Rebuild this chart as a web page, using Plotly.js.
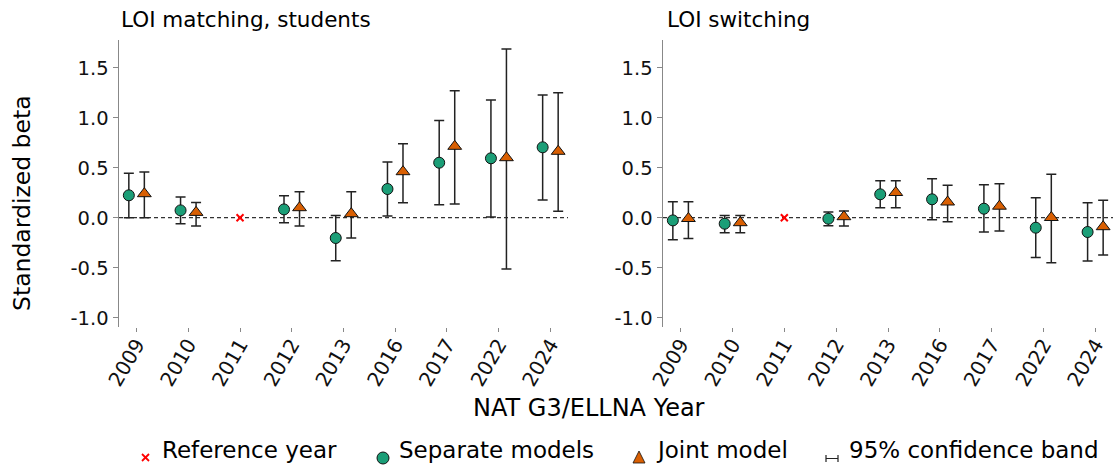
<!DOCTYPE html>
<html><head><meta charset="utf-8">
<script src="https://cdn.plot.ly/plotly-3.0.1.min.js"></script>
<style>html,body{margin:0;padding:0;background:#fff}</style>
</head><body><div id="chart" style="width:1113px;height:468px"></div>
<script>
const years = ['2009','2010','2011','2012','2013','2016','2017','2022','2024'];
const referenceYear = '2011';
const panelTitles = ['LOI matching, students', 'LOI switching'];
const yTickVals = [-1.0, -0.5, 0.0, 0.5, 1.0, 1.5];
const yTickText = ['-1.0', '-0.5', '0.0', '0.5', '1.0', '1.5'];

// LOI matching, students
const matchSepEst   = [0.224, 0.073, null, 0.083, -0.203, 0.287, 0.550, 0.594, 0.704];
const matchSepLo    = [0.000, -0.060, null, -0.050, -0.430, 0.017, 0.130, 0.007, 0.177];
const matchSepHi    = [0.444, 0.207, null, 0.220, 0.023, 0.557, 0.973, 1.177, 1.227];
const matchJointEst = [0.240, 0.053, null, 0.100, 0.040, 0.460, 0.714, 0.600, 0.664];
const matchJointLo  = [0.000, -0.083, null, -0.083, -0.203, 0.150, 0.137, -0.513, 0.064];
const matchJointHi  = [0.457, 0.153, null, 0.260, 0.260, 0.740, 1.270, 1.687, 1.250];
// LOI switching
const switchSepEst   = [-0.027, -0.060, null, -0.010, 0.234, 0.184, 0.090, -0.100, -0.143];
const switchSepLo    = [-0.220, -0.150, null, -0.080, 0.100, -0.020, -0.143, -0.397, -0.433];
const switchSepHi    = [0.160, 0.023, null, 0.057, 0.370, 0.390, 0.330, 0.200, 0.150];
const switchJointEst = [-0.008, -0.050, null, 0.010, 0.252, 0.157, 0.115, 0.002, -0.090];
const switchJointLo  = [-0.207, -0.150, null, -0.083, 0.100, -0.040, -0.133, -0.450, -0.373];
const switchJointHi  = [0.160, 0.023, null, 0.067, 0.370, 0.324, 0.340, 0.434, 0.174];

const legendLabels = ['Reference year', 'Separate models', 'Joint model', '95% confidence band'];

const W = 1113, H = 468;
const FONT = 'DejaVu Sans, Arial, sans-serif';
const GREEN = '#1b9e77', ORANGE = '#d95f02';
const DODGE = 0.15;
const idx = years.map((_, i) => i);
const refIdx = years.indexOf(referenceYear);
const fx = p => p / W, fy = p => 1 - p / H;

function errBar(est, lo, hi) {
  return {type: 'data', symmetric: false,
    array: est.map((v, i) => v == null ? null : hi[i] - v),
    arrayminus: est.map((v, i) => v == null ? null : v - lo[i]),
    color: '#222', thickness: 1.5, width: 5};
}
function panel(sepEst, sepLo, sepHi, jEst, jLo, jHi, xa, ya) {
  return [
    {x: idx.map(i => i - DODGE), y: sepEst, xaxis: xa, yaxis: ya, type: 'scatter', mode: 'markers',
     marker: {symbol: 'circle', size: 11, color: GREEN, line: {color: '#111', width: 1}},
     error_y: errBar(sepEst, sepLo, sepHi), showlegend: false, cliponaxis: false},
    {x: idx.map(i => i + DODGE), y: jEst, xaxis: xa, yaxis: ya, type: 'scatter', mode: 'markers',
     marker: {symbol: 'triangle-up', size: 12, color: ORANGE, line: {color: '#111', width: 1}},
     error_y: errBar(jEst, jLo, jHi), showlegend: false, cliponaxis: false},
    {x: [refIdx], y: [0], xaxis: xa, yaxis: ya, type: 'scatter', mode: 'markers',
     marker: {symbol: 'x-thin', size: 7, color: 'red', line: {color: 'red', width: 2}},
     showlegend: false, cliponaxis: false}
  ];
}
const data = [
  ...panel(matchSepEst, matchSepLo, matchSepHi, matchJointEst, matchJointLo, matchJointHi, 'x', 'y'),
  ...panel(switchSepEst, switchSepLo, switchSepHi, switchJointEst, switchJointLo, switchJointHi, 'x2', 'y2')
];

const xBase = {range: [-0.34, 8.34], tickvals: idx, ticktext: years, tickangle: -60,
  ticks: 'outside', ticklen: 4, tickcolor: '#888', tickwidth: 1, showline: false,
  ticklabelstandoff: -7,
  showgrid: false, zeroline: false, tickfont: {family: FONT, size: 20, color: '#111'}};
const yBase = {range: [-1.093, 1.777], tickvals: yTickVals, ticktext: yTickText,
  ticks: 'outside', ticklen: 5, tickcolor: '#888', tickwidth: 1, showline: true,
  linecolor: '#888', linewidth: 1.5, showgrid: false, zeroline: false,
  domain: [fy(327), fy(40)], tickfont: {family: FONT, size: 19.5, color: '#111'}};

const shapes = [
  {type: 'line', xref: 'x domain', yref: 'y', x0: 0, x1: 1, y0: 0, y1: 0, layer: 'below',
   line: {color: '#333', width: 1.2, dash: '4px,3px'}},
  {type: 'line', xref: 'x2 domain', yref: 'y2', x0: 0, x1: 1, y0: 0, y1: 0, layer: 'below',
   line: {color: '#333', width: 1.2, dash: '4px,3px'}},
  // legend symbols
  {type: 'line', xref: 'paper', yref: 'paper', x0: fx(142), x1: fx(149), y0: fy(454), y1: fy(461), line: {color: 'red', width: 1.8}},
  {type: 'line', xref: 'paper', yref: 'paper', x0: fx(142), x1: fx(149), y0: fy(461), y1: fy(454), line: {color: 'red', width: 1.8}},
  {type: 'circle', xref: 'paper', yref: 'paper', x0: fx(377), x1: fx(389), y0: fy(464), y1: fy(452), fillcolor: GREEN, line: {color: '#111', width: 1}},
  {type: 'path', xref: 'paper', yref: 'paper',
   path: `M${fx(633)},${fy(463)} L${fx(645)},${fy(463)} L${fx(639)},${fy(451)} Z`, fillcolor: ORANGE, line: {color: '#111', width: 0.8}},
  {type: 'path', xref: 'paper', yref: 'paper',
   path: `M${fx(826)},${fy(455)} L${fx(826)},${fy(462)} M${fx(826)},${fy(458.5)} L${fx(838)},${fy(458.5)} M${fx(838)},${fy(455)} L${fx(838)},${fy(462)}`,
   line: {color: '#222', width: 1.2}}
];

const ann = (text, x, y, size, extra) => Object.assign({text, x: fx(x), y: fy(y), xref: 'paper', yref: 'paper',
  showarrow: false, xanchor: 'left', yanchor: 'middle', font: {family: FONT, size, color: '#000'}}, extra || {});
const annotations = [
  ann(panelTitles[0], 119, 20, 21.5),
  ann(panelTitles[1], 665, 20, 21.5),
  ann('NAT G3/ELLNA Year', 589, 408, 24, {xanchor: 'center'}),
  ann('Standardized beta', 22, 203, 23.5, {xanchor: 'center', textangle: -90}),
  ann(legendLabels[0], 160, 450, 23),
  ann(legendLabels[1], 397, 450, 23),
  ann(legendLabels[2], 654, 450, 23),
  ann(legendLabels[3], 847, 450, 23)
];

const layout = {
  width: W, height: H, margin: {l: 0, r: 0, t: 0, b: 0},
  paper_bgcolor: '#fff', plot_bgcolor: '#fff', showlegend: false,
  font: {family: FONT},
  xaxis: Object.assign({}, xBase, {domain: [fx(119), fx(568)], anchor: 'y'}),
  yaxis: Object.assign({}, yBase, {anchor: 'x'}),
  xaxis2: Object.assign({}, xBase, {domain: [fx(663), 1], anchor: 'y2'}),
  yaxis2: Object.assign({}, yBase, {anchor: 'x2'}),
  shapes, annotations
};
Plotly.newPlot('chart', data, layout, {displayModeBar: false, staticPlot: true});
</script></body></html>
